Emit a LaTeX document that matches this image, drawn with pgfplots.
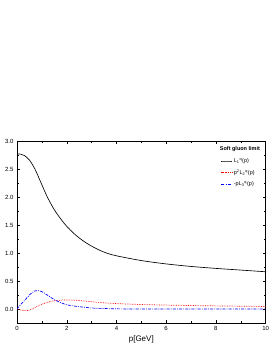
\documentclass[border=0pt]{standalone}
\usepackage{fontspec}
\setmainfont{Liberation Sans}
\usepackage{pgfplots}
\pgfplotsset{compat=1.18}
\newcommand{\SupSub}[2]{\textsubscript{#1}\textsuperscript{#2}}
\begin{document}
\begin{tikzpicture}[x=1pt,y=1pt]
\path (0,0) rectangle (272,352);
\begin{axis}[
  at={(17pt,29pt)}, anchor=south west,
  scale only axis, width=248.6pt, height=182pt,
  xmin=0, xmax=10, ymin=-0.25, ymax=3.0,
  xtick={0,2,4,6,8,10}, minor xtick={1,3,5,7,9},
  ytick={0,0.5,1,1.5,2,2.5,3}, minor ytick={-0.25,0.25,0.75,1.25,1.75,2.25,2.75},
  tick align=inside, tick pos=both,
  major tick length=3pt, minor tick length=1.6pt,
  tick style={black, line width=0.4pt},
  yticklabel style={/pgf/number format/.cd, fixed, fixed zerofill, precision=1},
  /pgf/number format/assume math mode=true,
  ticklabel style={font=\fontsize{6}{7}\selectfont},
  xlabel={p[GeV]}, xlabel style={font=\fontsize{8}{9}\selectfont, yshift=2pt},
  legend style={draw=none, fill=none, font=\fontsize{5.5}{6.5}\selectfont,
    at={(0.99,0.985)}, anchor=north east, row sep=1.8pt, inner sep=1pt},
  legend cell align=left,
  legend image post style={xscale=0.6},
]
\addlegendimage{empty legend}
\addlegendentry{\hspace{-14pt}\textbf{Soft gluon limit}}
\addplot[black, line width=0.65pt, smooth] coordinates {
(0,2.77)(0.15,2.765)(0.3,2.74)(0.5,2.66)(0.72,2.5)(0.97,2.25)(1.22,2.0)(1.53,1.752)(1.93,1.512)(2.33,1.332)(2.74,1.193)(3.14,1.089)(3.54,1.009)(4.0,0.95)(5,0.865)(6,0.805)(7,0.76)(8,0.725)(9,0.695)(10,0.665)};
\addlegendentry{L\SupSub{1}{q}(p)}
\addplot[red, line width=0.7pt, densely dotted, smooth] coordinates {
(0,0)(0.15,-0.018)(0.32,-0.03)(0.5,-0.02)(0.7,0.02)(0.92,0.07)(1.2,0.115)(1.53,0.15)(1.93,0.16)(2.4,0.155)(3.0,0.13)(3.5,0.11)(4,0.097)(5,0.08)(6,0.07)(7,0.062)(8,0.056)(9,0.05)(10,0.045)};
\addlegendentry{p\textsuperscript{2}L\SupSub{2}{q}(p)}
\addplot[blue, line width=0.7pt, dash pattern=on 3pt off 1.2pt on 0.8pt off 1.2pt, smooth] coordinates {
(0,0)(0.15,0.08)(0.32,0.16)(0.52,0.26)(0.7,0.32)(0.83,0.33)(1.0,0.31)(1.25,0.24)(1.53,0.16)(1.93,0.085)(2.25,0.055)(2.6,0.036)(3.0,0.018)(3.3,0.012)(4,0.003)(5,0)(6,0)(7,0)(8,0)(9,0)(10,0)};
\addlegendentry{-pL\SupSub{3}{q}(p)}
\end{axis}
\end{tikzpicture}
\end{document}
